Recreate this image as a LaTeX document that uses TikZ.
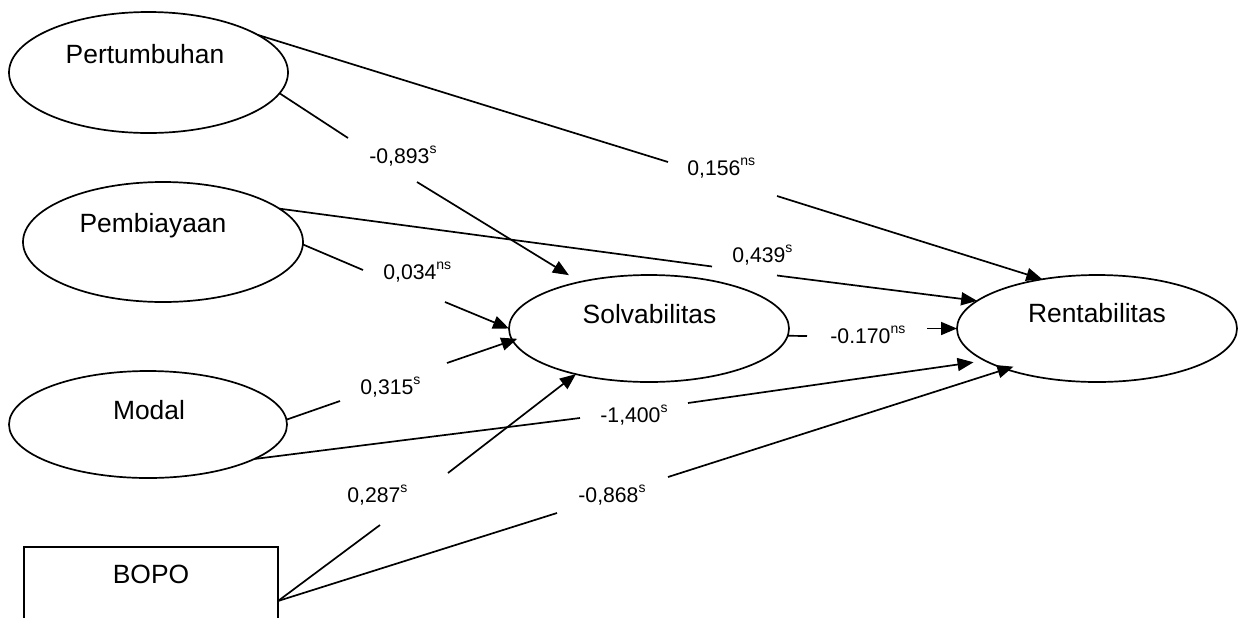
\documentclass[tikz,border=0pt]{standalone}
\usepackage{fontspec}
\setmainfont{Liberation Sans}
\usetikzlibrary{arrows.meta,shapes.geometric}
\newcommand{\sg}[1]{\raisebox{5pt}{\fontsize{7}{8}\selectfont #1}}
\begin{document}
\begin{tikzpicture}[x=0.5pt,y=-0.5pt,
  ell/.style={ellipse,draw,line width=0.85pt,inner sep=0pt,outer sep=0pt},
  box/.style={rectangle,draw,line width=0.85pt,inner sep=0pt,outer sep=0pt},
  ttl/.style={anchor=base,font=\fontsize{13.2}{15}\selectfont,inner sep=0pt},
  lbl/.style={anchor=base west,font=\fontsize{10.6}{12}\selectfont,inner sep=0pt},
  ln/.style={line width=0.85pt},
  arr/.style={line width=0.85pt,-{Triangle[length=8pt,width=6.5pt]}}]
\useasboundingbox (0,0) rectangle (1244,617);
\clip (0,0) rectangle (1244,617);

% nodes
\node[ell,minimum width=139.5pt,minimum height=60.5pt] (pert) at (148.5,72.5) {};
\node[ell,minimum width=140pt,minimum height=60pt] (pemb) at (163,242) {};
\node[ell,minimum width=139pt,minimum height=53.5pt] (modal) at (148,424.5) {};
\node[box,minimum width=127pt,minimum height=54pt] (bopo) at (151,601) {};
\node[ell,minimum width=140pt,minimum height=53.5pt] (solv) at (649,328.5) {};
\node[ell,minimum width=140pt,minimum height=53.5pt] (rent) at (1097,328.5) {};

\node[ttl] (pertT) at (145,63) {Pertumbuhan};
\node[ttl] (pembT) at (153,232) {Pembiayaan};
\node[ttl] (modalT) at (149,419) {Modal};
\node[ttl] (bopoT) at (151,583) {BOPO};
\node[ttl] (solvT) at (649.5,323) {Solvabilitas};
\node[ttl] (rentT) at (1097,322) {Rentabilitas};

% gap coordinates
\coordinate (a1) at (668,162);   \coordinate (b1) at (777,196);
\coordinate (a2) at (348,138);   \coordinate (b2) at (417,182);
\coordinate (a3) at (712,266.5); \coordinate (b3) at (777,275.5);
\coordinate (a4) at (363,270);   \coordinate (b4) at (445,302);
\coordinate (a5) at (340,401);   \coordinate (b5) at (447,363);
\coordinate (a6) at (580,418);   \coordinate (b6) at (688,403);
\coordinate (a7) at (380,525);   \coordinate (b7) at (448,473);
\coordinate (a8) at (557,513);   \coordinate (b8) at (668,477);
\coordinate (a9) at (807,336);   \coordinate (b9) at (927,328.5);

% connectors
\draw[ln] (pert.19.5) -- (a1);  \draw[arr] (b1) -- (rent.138);
\draw[ln] (pert.-9.9) -- (a2);  \draw[arr,shorten >=6.5pt] (b2) -- (solv.146.2);
\draw[ln] (pemb.16.2) -- (a3);  \draw[arr] (b3) -- (rent.167.1);
\draw[ln] (pemb.-1.6) -- (a4);  \draw[arr] (b4) -- (solv.180);
\draw[ln] (modal.2.3) -- (a5);  \draw[arr,shorten >=-2.5pt] (b5) -- (solv.185.5);
\draw[ln] (modal.-18.7) -- (a6); \draw[arr,shorten >=5.8pt] (b6) -- (rent.196.6);
\draw[ln] (bopo.east) -- (a7);  \draw[arr] (b7) -- (solv.212.6);
\draw[ln] (bopo.east) -- (a8);  \draw[arr,shorten >=-4pt] (b8) -- (rent.204.5);
\draw[ln] (solv.-3.07) -- (a9); \draw[arr] (b9) -- (rent.west);

% labels
\node[lbl] (l1) at (687,175) {0,156\sg{ns}};
\node[lbl] (l2) at (369,163) {-0,893\sg{s}};
\node[lbl] (l3) at (732,262) {0,439\sg{s}};
\node[lbl] (l4) at (383,279) {0,034\sg{ns}};
\node[lbl] (l5) at (360,394) {0,315\sg{s}};
\node[lbl] (l6) at (600,422) {-1,400\sg{s}};
\node[lbl] (l7) at (347,502) {0,287\sg{s}};
\node[lbl] (l8) at (578,502) {-0,868\sg{s}};
\node[lbl] (l9) at (830,343) {-0.170\sg{ns}};
\end{tikzpicture}
\end{document}
